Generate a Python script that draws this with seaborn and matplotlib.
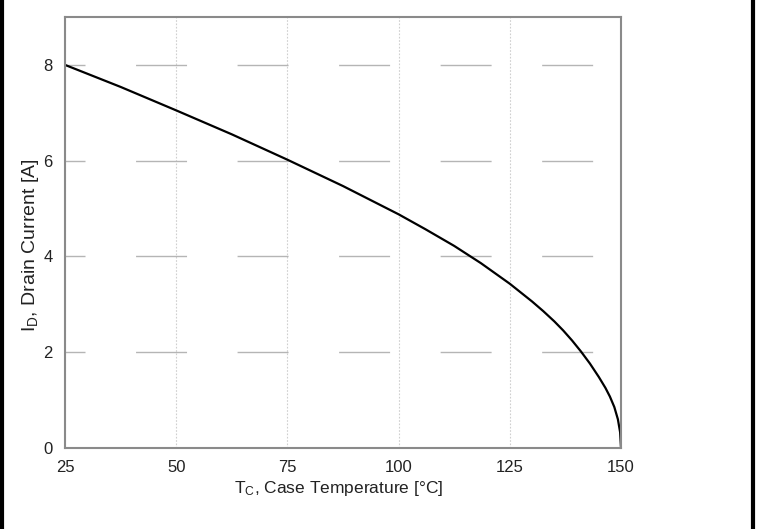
import matplotlib
matplotlib.use("Agg")
import matplotlib.pyplot as plt
from matplotlib.lines import Line2D
from matplotlib.ticker import AutoMinorLocator, FixedLocator
import seaborn as sns
import pandas as pd

# ---- data ----
case_temp = [25, 37.5, 50, 62.5, 75, 87.5, 100, 106, 112.5, 118.5, 125,
             130, 132.5, 135, 137, 139, 141, 143, 145, 146.5, 147.5, 148.5,
             149.3, 149.8, 150]
drain_current = [8.0, 7.54, 7.05, 6.55, 6.02, 5.47, 4.88, 4.57, 4.22, 3.86, 3.43,
                 3.06, 2.86, 2.645, 2.455, 2.245, 2.015, 1.765, 1.485, 1.255, 1.075, 0.855,
                 0.60, 0.33, 0.0]
x_ticks = [25, 50, 75, 100, 125, 150]
y_ticks = [0, 2, 4, 6, 8]
x_label = r"T$_\mathregular{C}$, Case Temperature [°C]"
y_label = r"I$_\mathregular{D}$, Drain Current [A]"

sns.set_style("white")
plt.rcParams["font.family"] = ["Liberation Sans", "DejaVu Sans"]
plt.rcParams["mathtext.default"] = "regular"

df = pd.DataFrame({"T": case_temp, "I": drain_current})

fig = plt.figure(figsize=(7.59, 5.29), dpi=100)
ax = fig.add_axes([65 / 759, 81 / 529, 556 / 759, 431 / 529])

sns.lineplot(data=df, x="T", y="I", ax=ax, color="black", linewidth=1.6,
             estimator=None, sort=False)

ax.set_xlim(25, 150)
ax.set_ylim(0, 9)
ax.xaxis.set_major_locator(FixedLocator(x_ticks))
ax.yaxis.set_major_locator(FixedLocator(y_ticks))
ax.xaxis.set_minor_locator(AutoMinorLocator(2))
ax.yaxis.set_minor_locator(AutoMinorLocator(2))

ax.tick_params(which="both", direction="in", length=3, width=1,
               color="#777777", labelsize=12, labelcolor="#222222", pad=9)
ax.tick_params(which="both", top=False, right=False)

ax.xaxis.grid(True, linestyle=(0, (1.5, 1.5)), color="#cfcfcf", linewidth=0.8)
ax.yaxis.grid(True, linestyle=(22.3, (36.7, 36.4)), color="#b5b5b5", linewidth=1.0)

for side, sp in ax.spines.items():
    sp.set_visible(True)
    sp.set_color("#8a8a8a")
    sp.set_linewidth(1.5)

ax.set_xlabel(x_label, fontsize=12.5, color="#222222")
ax.set_ylabel(y_label, fontsize=14, color="#222222")
ax.xaxis.set_label_coords(0.493, -0.072)
ax.yaxis.set_label_coords(-0.043, 0.471)

# outer frame lines (left and right)
for xf in (2 / 759, 753 / 759):
    fig.add_artist(Line2D([xf, xf], [0, 1], transform=fig.transFigure,
                          color="black", linewidth=3))

fig.savefig("out.png", dpi=100)
